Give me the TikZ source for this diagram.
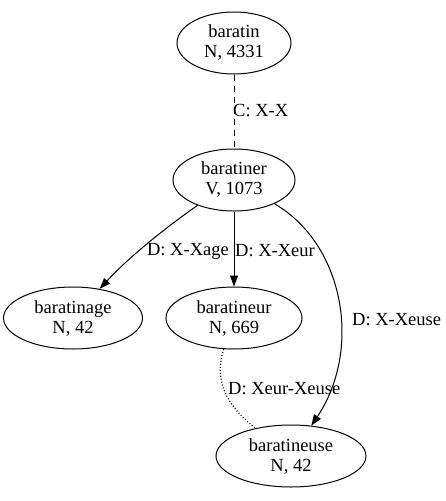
\documentclass[tikz,border=0pt]{standalone}
\usepackage{fontspec}
\setmainfont{Liberation Serif}
\usetikzlibrary{shapes.geometric,arrows.meta}
\begin{document}
\begin{tikzpicture}[x=1pt,y=-1pt,
  word/.style={draw,line width=1pt,ellipse,inner sep=0pt,align=center,minimum height=62pt,font=\fontsize{18.5}{20}\selectfont},
  lbl/.style={inner sep=0pt,font=\fontsize{18.5}{20}\selectfont},
  link/.style={line width=1pt},
  tip/.style={-{Triangle[length=11pt,width=8pt]}}]
\useasboundingbox (0,0) rectangle (446,501);
\node[word,minimum width=114pt] (baratin) at (234,43) {baratin\\N, 4331};
\node[word,minimum width=122pt] (baratiner) at (234,180) {baratiner\\V, 1073};
\node[word,minimum width=139pt] (baratinage) at (73,318) {baratinage\\N, 42};
\node[word,minimum width=136pt] (baratineur) at (234,318) {baratineur\\N, 669};
\node[word,minimum width=150pt] (baratineuse) at (291,456) {baratineuse\\N, 42};
\draw[link,dashed,dash pattern=on 6pt off 5pt] (baratin) -- (baratiner);
\draw[link,tip] (baratiner) .. controls (165,228) and (128,258) .. (baratinage);
\draw[link,tip] (baratiner) -- (baratineur);
\draw[link,tip] (baratiner) .. controls (345,245) and (362,350) .. (baratineuse);
\draw[link,dotted,line width=1.2pt] (baratineur) .. controls (212,385) and (232,410) .. (baratineuse);
\node[lbl,anchor=west] (l1) at (233,111) {C: X-X};
\node[lbl,anchor=east] (l2) at (229,251) {D: X-Xage};
\node[lbl,anchor=west] (l3) at (235,251) {D: X-Xeur};
\node[lbl,anchor=west] (l4) at (352,320) {D: X-Xeuse};
\node[lbl,anchor=west] (l5) at (228,389) {D: Xeur-Xeuse};
\end{tikzpicture}
\end{document}
